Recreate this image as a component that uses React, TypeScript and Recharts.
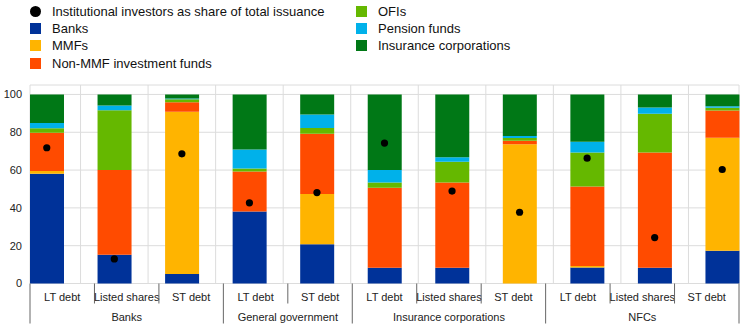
import { ComposedChart, Bar, Scatter, XAxis, YAxis, CartesianGrid } from 'recharts';

const sectors = ['Banks', 'Banks', 'Banks', 'General government', 'General government', 'Insurance corporations', 'Insurance corporations', 'Insurance corporations', 'NFCs', 'NFCs', 'NFCs'];
const instruments = ['LT debt', 'Listed shares', 'ST debt', 'LT debt', 'ST debt', 'LT debt', 'Listed shares', 'ST debt', 'LT debt', 'Listed shares', 'ST debt'];

const banks = [58, 15.2, 5, 38.1, 20.8, 8.3, 8.3, 0, 8.5, 8.3, 17.3];
const mmfs = [1.5, 0, 85.8, 0, 26.5, 0, 0, 73.7, 0.7, 0, 59.8];
const nonMmf = [20.3, 44.8, 5.1, 21.2, 31.9, 42.3, 45.1, 1.8, 42.1, 61, 14.4];
const ofis = [2.3, 31.7, 1.5, 1.5, 3, 2.8, 11, 1.4, 18, 20.5, 1.4];
const pension = [2.8, 2.5, 0.4, 10.1, 7.2, 6.6, 2.4, 1.1, 5.7, 3.3, 0.9];
const insurance = [15.1, 5.8, 2.2, 29.1, 10.6, 40, 33.2, 22, 25, 6.9, 6.2];
const instShare = [71.8, 13, 68.6, 42.7, 48.1, 74.3, 48.9, 37.7, 66.3, 24.3, 60.3];

const yTicks = [0, 20, 40, 60, 80, 100];

const series = [
  { key: 'banks', name: 'Banks', color: '#003299', values: banks },
  { key: 'mmfs', name: 'MMFs', color: '#FFB400', values: mmfs },
  { key: 'nonMmf', name: 'Non-MMF investment funds', color: '#FF4B00', values: nonMmf },
  { key: 'ofis', name: 'OFIs', color: '#65B800', values: ofis },
  { key: 'pension', name: 'Pension funds', color: '#00B1EA', values: pension },
  { key: 'insurance', name: 'Insurance corporations', color: '#007816', values: insurance },
];

const data = instruments.map((inst, i) => {
  const row: any = { id: `${sectors[i]}|${inst}`, inst: instShare[i] };
  series.forEach((s) => { row[s.key] = s.values[i]; });
  return row;
});

const W = 744;
const H = 332;
const LEFT = 30;
const RIGHT = 5;
const PAD = 17;
const PLOT_W = W - LEFT - RIGHT;
const FONT = "Arial, 'Liberation Sans', sans-serif";

const LabelTick = (props: any) => {
  const { x, y, index } = props;
  const bw = PLOT_W / data.length;
  const left = x - bw / 2;
  const groupStart = index === 0 || sectors[index] !== sectors[index - 1];
  const isLast = index === data.length - 1;
  let groupLabel = null;
  if (groupStart) {
    let n = 0;
    while (sectors[index + n] === sectors[index]) n++;
    groupLabel = (
      <text x={left + (n * bw) / 2} y={y + 37.5} textAnchor="middle" fontSize={11} fill="#222" fontFamily={FONT}>
        {sectors[index]}
      </text>
    );
  }
  return (
    <g>
      <line x1={left} x2={left} y1={y} y2={y + (groupStart ? 40 : 20)} stroke="#666" />
      {isLast && <line x1={left + bw} x2={left + bw} y1={y} y2={y + 40} stroke="#666" />}
      <text x={x} y={y + 17.5} textAnchor="middle" fontSize={11} fill="#222" fontFamily={FONT}>
        {instruments[index]}
      </text>
      {groupLabel}
    </g>
  );
};

// grid lines sit between the bars, on the band edges of the bar axis
const verticalLines = ({ xAxis, offset }: any) => {
  const pts = [offset.left, offset.left + offset.width];
  const sc = xAxis && xAxis.scale;
  if (typeof sc === 'function') {
    data.slice(1).forEach((d) => pts.push(sc(d.id)));
  } else {
    const band = (offset.width + 2 * PAD) / data.length;
    data.slice(1).forEach((_, i) => pts.push(offset.left - PAD + band * (i + 1)));
  }
  return pts;
};

const legendLeft = [
  { name: 'Institutional investors as share of total issuance', color: '#000', dot: true },
  ...series.slice(0, 3),
];
const legendRight = series.slice(3);

const LegendItem = ({ item, top, left }: any) => (
  <div style={{ position: 'absolute', top, left, display: 'flex', alignItems: 'center', height: 17 }}>
    <span
      style={{
        width: 11,
        height: 11,
        background: item.color,
        borderRadius: item.dot ? '50%' : 0,
        display: 'inline-block',
      }}
    />
    <span style={{ marginLeft: 11, fontSize: 13, color: '#111', whiteSpace: 'nowrap' }}>{item.name}</span>
  </div>
);

export default function App() {
  return (
    <div style={{ position: 'relative', width: W, height: H, fontFamily: FONT, background: '#fff' }}>
      <style>{'body{margin:0}'}</style>
      {legendLeft.map((item, i) => (
        <LegendItem key={item.name} item={item} top={3 + i * 17.2} left={30} />
      ))}
      {legendRight.map((item, i) => (
        <LegendItem key={item.name} item={item} top={3 + i * 17.2} left={356} />
      ))}
      <div style={{ position: 'absolute', top: 0, left: 0 }}>
        <ComposedChart width={W} height={H} data={data} margin={{ top: 85, right: RIGHT, left: 0, bottom: 0 }} barSize={34}>
          <CartesianGrid xAxisId="bars" stroke="#dcdcdc" verticalCoordinatesGenerator={verticalLines} />
          <XAxis xAxisId="bars" dataKey="id" hide height={0} padding={{ left: -PAD, right: -PAD }} />
          <XAxis
            xAxisId="labels"
            dataKey="id"
            height={48.5}
            axisLine={false}
            tickLine={false}
            tickSize={0}
            tickMargin={0}
            interval={0}
            tick={<LabelTick />}
          />
          <YAxis
            width={LEFT}
            domain={[0, 105]}
            ticks={yTicks}
            axisLine={false}
            tickLine={false}
            tick={{ fontSize: 11, fill: '#222', fontFamily: FONT }}
          />
          {series.map((s) => (
            <Bar key={s.key} xAxisId="bars" dataKey={s.key} name={s.name} stackId="a" fill={s.color} isAnimationActive={false} />
          ))}
          <Scatter
            xAxisId="bars"
            dataKey="inst"
            fill="#000"
            isAnimationActive={false}
            shape={(p: any) => <circle cx={p.cx} cy={p.cy} r={3.6} fill="#000" />}
          />
        </ComposedChart>
      </div>
    </div>
  );
}
